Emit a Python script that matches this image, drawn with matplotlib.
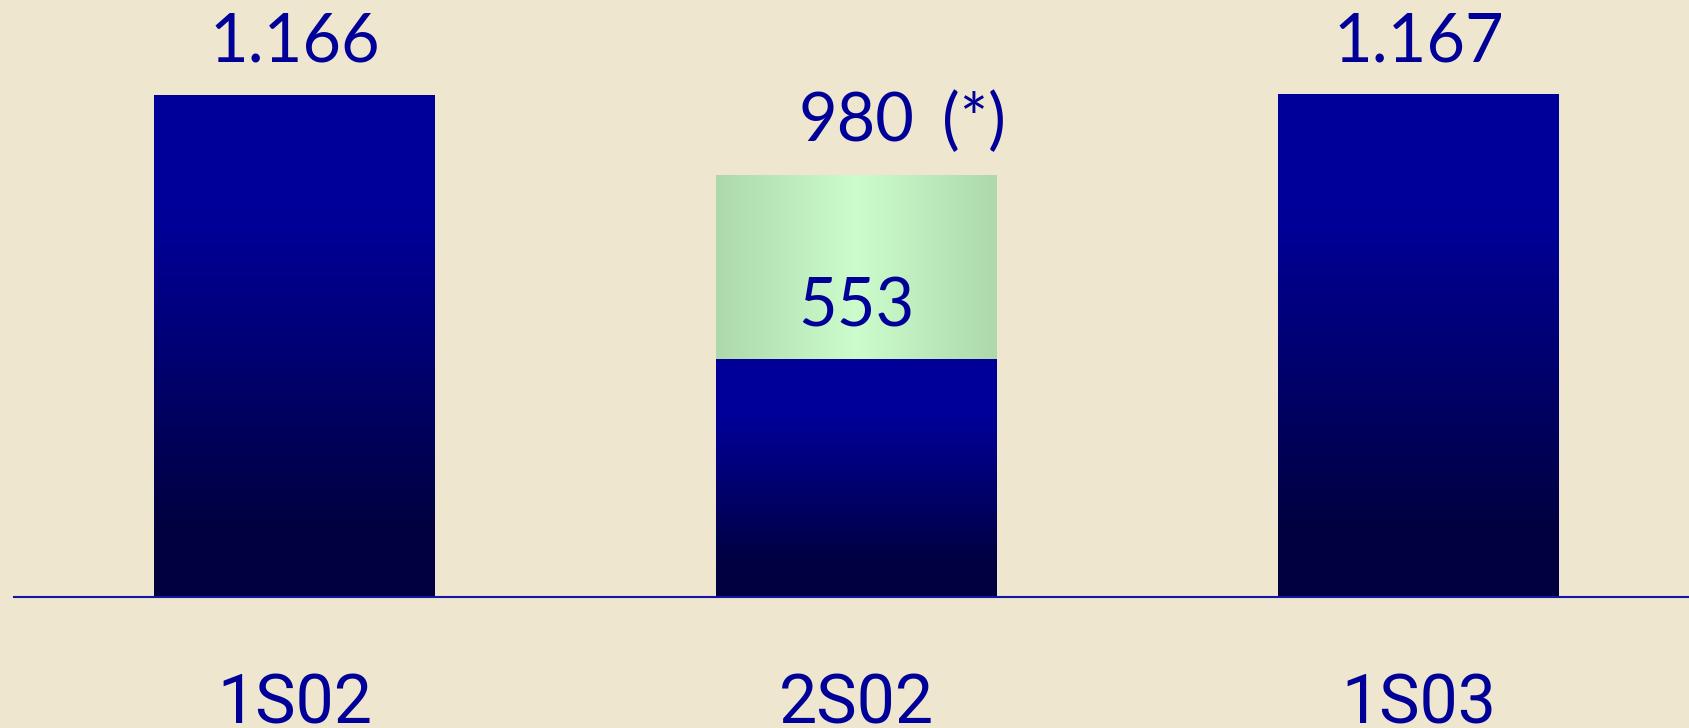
import numpy as np
import matplotlib
matplotlib.use('Agg')
import matplotlib.pyplot as plt
from matplotlib.colors import LinearSegmentedColormap

categories = ['1S02', '2S02', '1S03']
base_values = [1166, 553, 1167]
extra_values = [0, 427, 0]
top_labels = ['1.166', '980', '1.167']
top_suffix = ['', '(*)', '']
inner_labels = ['', '553', '']

BG = '#EEE6CF'
TXT = '#000099'
W, H = 1689, 728
fig = plt.figure(figsize=(W / 100, H / 100), dpi=100, facecolor=BG)
ax = fig.add_axes([14 / W, (H - 597) / H, 3 * 561.75 / W, 597 / H])
ax.set_facecolor(BG)

x = np.arange(len(categories))
blue_cmap = LinearSegmentedColormap.from_list(
    'b', [(0, '#00003E'), (0.15, '#000042'), (0.75, '#000098'), (1, '#000099')])
green_cmap = LinearSegmentedColormap.from_list(
    'g', [(0, '#ADD9AD'), (0.5, '#CCFCCC'), (1, '#ADD9AD')])

bars_base = ax.bar(x, base_values, width=0.5, color='none', linewidth=0)
bars_extra = ax.bar(x, extra_values, bottom=base_values, width=0.5,
                    color='none', linewidth=0)

vgrad = np.linspace(0, 1, 256).reshape(-1, 1)
hgrad = np.linspace(0, 1, 256).reshape(1, -1)
for p in bars_base:
    x0, y0, w, h = p.get_x(), p.get_y(), p.get_width(), p.get_height()
    if h > 0:
        ax.imshow(vgrad, cmap=blue_cmap, extent=(x0, x0 + w, y0, y0 + h),
                  origin='lower', aspect='auto', interpolation='bilinear', zorder=2)
for p in bars_extra:
    x0, y0, w, h = p.get_x(), p.get_y(), p.get_width(), p.get_height()
    if h > 0:
        ax.imshow(hgrad, cmap=green_cmap, extent=(x0, x0 + w, y0, y0 + h),
                  origin='lower', aspect='auto', interpolation='bilinear', zorder=2)

VFONT = 'Lato'
VSIZE = 48
for i in range(len(categories)):
    total = base_values[i] + extra_values[i]
    t = ax.annotate(top_labels[i], xy=(x[i], total), xytext=(0, 24),
                    textcoords='offset points', ha='center', va='baseline',
                    fontsize=VSIZE, color=TXT, family=VFONT, zorder=5)
    if top_suffix[i]:
        ax.annotate(top_suffix[i], xy=(1, 0), xycoords=t, xytext=(20, 0),
                    textcoords='offset points', ha='left', va='bottom',
                    fontsize=VSIZE, color=TXT, family=VFONT, zorder=5)
    if inner_labels[i]:
        ax.annotate(inner_labels[i], xy=(x[i], base_values[i]), xytext=(0, 23),
                    textcoords='offset points', ha='center', va='baseline',
                    fontsize=VSIZE, color=TXT, family=VFONT, zorder=5)

ax.set_xlim(-0.5, 2.5)
ax.set_ylim(0, 1386.7)
ax.set_xticks(x, categories, fontsize=49, color=TXT, family='Roboto')
ax.tick_params(axis='x', length=0, pad=54)
ax.set_yticks([])
for s in ['left', 'right', 'top']:
    ax.spines[s].set_visible(False)
ax.spines['bottom'].set_color('#1515A5')
ax.spines['bottom'].set_linewidth(1.5)
ax.spines['bottom'].set_zorder(3)

fig.savefig('out.png', dpi=100, facecolor=BG)
